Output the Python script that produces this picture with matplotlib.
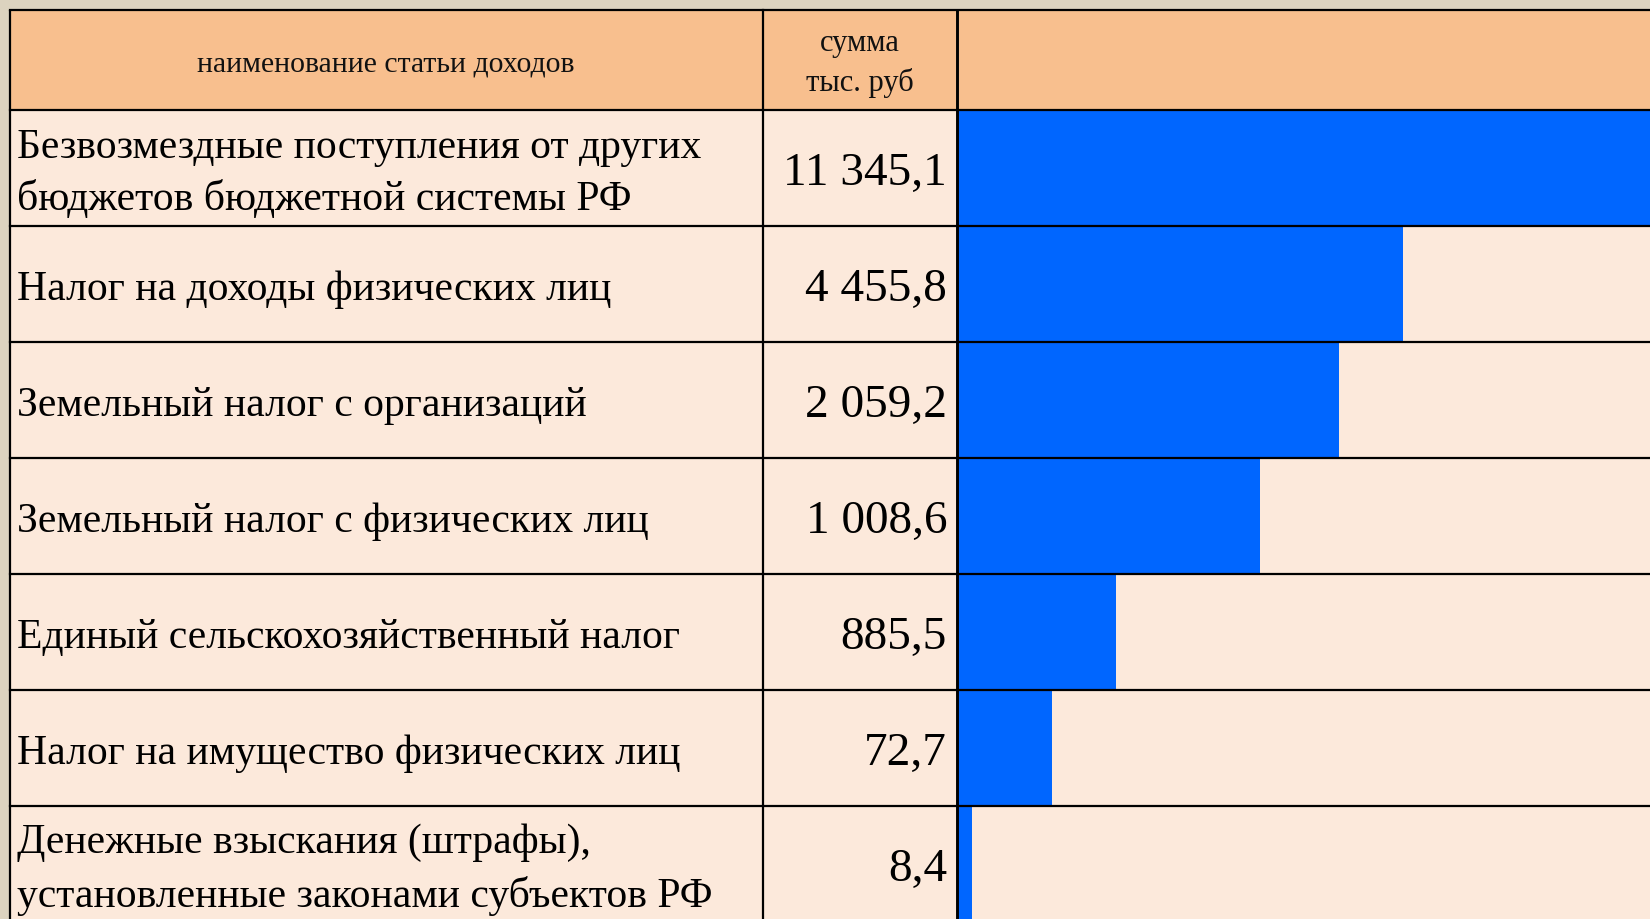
import matplotlib
matplotlib.use("Agg")
import matplotlib.pyplot as plt
from matplotlib.patches import Rectangle

# ---------------- data ----------------
header_name = "наименование статьи доходов"
header_sum = "сумма\nтыс. руб"
categories = [
    "Безвозмездные поступления от других\nбюджетов бюджетной системы РФ",
    "Налог на доходы физических лиц",
    "Земельный налог с организаций",
    "Земельный налог с физических лиц",
    "Единый сельскохозяйственный налог",
    "Налог на имущество физических лиц",
    "Денежные взыскания (штрафы),\nустановленные законами субъектов РФ",
]
amounts = [11345.1, 4455.8, 2059.2, 1008.6, 885.5, 72.7, 8.4]
# bar lengths as drawn in the picture (percent of the visible bar column)
bar_lengths = [100.0, 64.4, 55.1, 43.7, 22.9, 13.7, 2.2]


def fmt(v):
    s = f"{v:,.1f}".replace(",", " ").replace(".", ",")
    return s


# ---------------- style ----------------
W, H = 1650, 920
BG = "#dcd3bf"
HEAD = "#f8bf8e"
BODY = "#fce9db"
BLUE = "#0066ff"
FONT = ["Liberation Serif", "DejaVu Serif"]

left, top = 10.0, 11.0
head_bot = 110.5
row_h = 116.1
col1, col2 = 763.0, 957.0
right = W + 20
n = len(categories)
bottom = head_bot + n * row_h

fig = plt.figure(figsize=(W / 100, H / 100), dpi=100)
fig.patch.set_facecolor(BG)

# background canvas (pixel units)
axb = fig.add_axes([0, 0, 1, 1], zorder=0)
axb.set_xlim(0, W)
axb.set_ylim(H, 0)
axb.axis("off")
axb.add_patch(Rectangle((left, top), right - left, head_bot - top, facecolor=HEAD, edgecolor="none"))
axb.add_patch(Rectangle((left, head_bot), right - left, bottom - head_bot, facecolor=BODY, edgecolor="none"))

# bar axes, covering the bar column of the body rows
x0 = col2 / W
wid = (W - col2) / W
y_bot = 1 - bottom / H
hei = (bottom - head_bot) / H
axbar = fig.add_axes([x0, y_bot, wid, hei], zorder=1)
axbar.patch.set_alpha(0)
axbar.barh(range(n), bar_lengths, height=1.0, color=BLUE, edgecolor="none")
axbar.set_xlim(0, 100)
axbar.set_ylim(n - 0.5, -0.5)
axbar.axis("off")

# overlay: grid lines and text
ax = fig.add_axes([0, 0, 1, 1], zorder=2)
ax.patch.set_alpha(0)
ax.set_xlim(0, W)
ax.set_ylim(H, 0)
ax.axis("off")

lw = 1.6
ax.plot([left, left], [top, bottom], color="black", lw=lw, solid_capstyle="butt")
ax.plot([left, right], [top, top], color="black", lw=lw)
ax.plot([col1, col1], [top, bottom], color="black", lw=lw)
ax.plot([col2, col2], [top, bottom], color="black", lw=2.1)
ax.plot([left, right], [head_bot, head_bot], color="black", lw=lw)
for i in range(1, n + 1):
    y = head_bot + i * row_h
    ax.plot([left, right], [y, y], color="black", lw=lw)

# header text
ax.text((left + col1) / 2 - 1, (top + head_bot) / 2 + 4, header_name, ha="center", va="center",
        fontsize=21.4, family=FONT, color="#111111")
ax.text((col1 + col2) / 2, (top + head_bot) / 2 + 3, header_sum, ha="center", va="center",
        fontsize=22, family=FONT, color="#111111", linespacing=1.45, multialignment="center")

# body text
for i, (cat, val) in enumerate(zip(categories, amounts)):
    yc = head_bot + (i + 0.5) * row_h
    ax.text(17, yc + 5, cat, ha="left", va="center", fontsize=30, family=FONT,
            color="black", linespacing=1.45)
    ax.text(947, yc + 5, fmt(val), ha="right", va="center", fontsize=34, family=FONT,
            color="black")

fig.savefig("out.png", dpi=100, facecolor=fig.get_facecolor())
